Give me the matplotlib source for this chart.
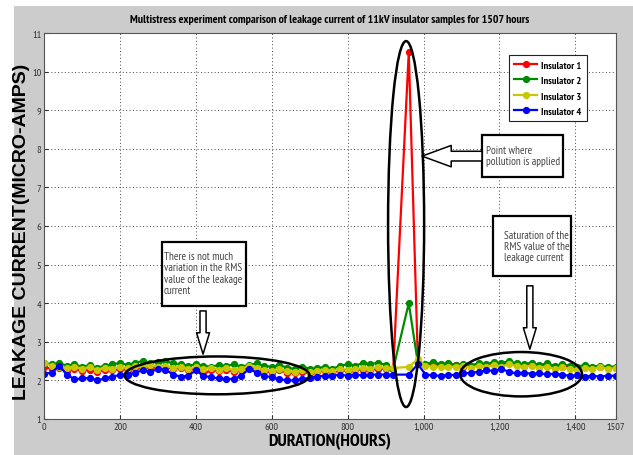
import matplotlib
matplotlib.use("Agg")
import matplotlib.pyplot as plt
from matplotlib.patches import Ellipse, Rectangle

# sample times (hours)
hours = [0, 20, 40, 60, 80, 100, 120, 140, 160, 180, 200, 220, 240, 260, 280,
         300, 320, 340, 360, 380, 400, 420, 440, 460, 480, 500, 520, 540, 560,
         580, 600, 620, 640, 660, 680, 700, 720, 740, 760, 780, 800, 820, 840,
         860, 880, 900, 920, 961, 985, 1005, 1025, 1045, 1065, 1085, 1105,
         1125, 1145, 1165, 1185, 1205, 1225, 1245, 1265, 1285, 1305, 1325,
         1345, 1365, 1385, 1405, 1425, 1445, 1465, 1485, 1507]

# RMS leakage current (micro-amps)
ins1 = [2.35, 2.30, 2.32, 2.25, 2.30, 2.24, 2.28, 2.22, 2.27, 2.26, 2.30, 2.27,
        2.32, 2.30, 2.35, 2.32, 2.34, 2.30, 2.32, 2.26, 2.30, 2.15, 2.28, 2.24,
        2.28, 2.22, 2.26, 2.33, 2.28, 2.24, 2.20, 2.26, 2.20, 2.18, 2.22, 2.18,
        2.22, 2.25, 2.20, 2.26, 2.25, 2.27, 2.28, 2.27, 2.30, 2.30, 2.30, 10.5,
        2.50, 2.40, 2.40, 2.40, 2.40, 2.40, 2.36, 2.38, 2.40, 2.38, 2.42, 2.40,
        2.44, 2.40, 2.38, 2.42, 2.36, 2.38, 2.33, 2.36, 2.33, 2.30, 2.34, 2.32,
        2.34, 2.32, 2.33]
ins2 = [2.45, 2.42, 2.45, 2.38, 2.42, 2.35, 2.40, 2.33, 2.38, 2.42, 2.45, 2.40,
        2.46, 2.50, 2.45, 2.48, 2.50, 2.44, 2.42, 2.38, 2.42, 2.38, 2.35, 2.40,
        2.37, 2.42, 2.36, 2.40, 2.44, 2.38, 2.35, 2.40, 2.33, 2.30, 2.36, 2.30,
        2.32, 2.35, 2.30, 2.38, 2.42, 2.38, 2.45, 2.42, 2.46, 2.40, 2.30, 4.00,
        2.45, 2.42, 2.48, 2.42, 2.45, 2.40, 2.42, 2.38, 2.45, 2.42, 2.48, 2.45,
        2.50, 2.44, 2.42, 2.46, 2.40, 2.44, 2.38, 2.42, 2.38, 2.36, 2.40, 2.36,
        2.38, 2.35, 2.36]
ins3 = [2.45, 2.38, 2.36, 2.32, 2.36, 2.30, 2.34, 2.28, 2.33, 2.30, 2.35, 2.32,
        2.37, 2.34, 2.40, 2.36, 2.38, 2.33, 2.36, 2.30, 2.35, 2.30, 2.33, 2.28,
        2.32, 2.27, 2.30, 2.38, 2.32, 2.28, 2.25, 2.30, 2.24, 2.22, 2.26, 2.22,
        2.25, 2.28, 2.24, 2.30, 2.28, 2.30, 2.32, 2.30, 2.35, 2.33, 2.32, 2.35,
        2.55, 2.38, 2.36, 2.35, 2.36, 2.35, 2.38, 2.33, 2.38, 2.35, 2.40, 2.36,
        2.42, 2.37, 2.36, 2.38, 2.33, 2.36, 2.30, 2.34, 2.30, 2.28, 2.32, 2.30,
        2.34, 2.30, 2.32]
ins4 = [2.17, 2.20, 2.38, 2.15, 2.03, 2.05, 2.06, 2.00, 2.05, 2.10, 2.14, 2.15,
        2.20, 2.26, 2.22, 2.30, 2.28, 2.15, 2.10, 2.12, 2.26, 2.12, 2.08, 2.05,
        2.03, 2.04, 2.12, 2.30, 2.20, 2.12, 2.08, 2.03, 2.00, 2.00, 2.03, 2.07,
        2.10, 2.12, 2.12, 2.15, 2.12, 2.15, 2.13, 2.15, 2.15, 2.15, 2.15, 2.15,
        2.42, 2.15, 2.13, 2.12, 2.14, 2.14, 2.18, 2.20, 2.22, 2.26, 2.25, 2.30,
        2.22, 2.18, 2.20, 2.17, 2.18, 2.16, 2.17, 2.15, 2.12, 2.13, 2.10, 2.12,
        2.10, 2.12, 2.12]

series = [ins1, ins2, ins3, ins4]
names = ["Insulator 1", "Insulator 2", "Insulator 3", "Insulator 4"]
colors = ["#ff0000", "#008a00", "#c8c800", "#0000ff"]

xticks = [0, 200, 400, 600, 800, 1000, 1200, 1400, 1507]
xticklabels = ["0", "200", "400", "600", "800", "1,000", "1,200", "1,400", "1507"]
yticks = list(range(1, 12))

narrow = ["PT Sans Narrow", "DejaVu Sans"]

fig = plt.figure(figsize=(6.33, 4.56), dpi=100, facecolor="white")
# grey window background
fig.patches.append(Rectangle((14 / 633, 0), 1, 449 / 456, transform=fig.transFigure,
                             facecolor="#cccccc", edgecolor="none", zorder=-10))

ax = fig.add_axes([44 / 633, 36 / 456, 572 / 633, 386 / 456])
ax.set_facecolor("white")

for vals, name, c in zip(series, names, colors):
    ax.plot(hours, vals, "-o", color=c, lw=1.6, ms=4.2, label=name)

ax.set_xlim(0, 1507)
ax.set_ylim(1, 11)
ax.set_xticks(xticks)
ax.set_xticklabels(xticklabels)
ax.set_yticks(yticks)
ax.grid(True, linestyle=(0, (1, 2.5)), color="#444444", lw=0.7)
ax.tick_params(direction="in", length=3, labelsize=7.5, colors="#333333", pad=2)
for lab in ax.get_xticklabels() + ax.get_yticklabels():
    lab.set_family(narrow)
for s in ax.spines.values():
    s.set_color("#555555")
    s.set_linewidth(0.8)

ax.set_title("Multistress experiment comparison of leakage current of 11kV insulator samples for 1507 hours",
             family=narrow, fontsize=8.5, fontweight="bold", pad=8)
ax.set_xlabel("DURATION(HOURS)", family=narrow, fontsize=13, fontweight="bold")
ax.xaxis.set_label_coords(0.5, -0.035)
fig.text(22 / 633, 1 - 232 / 456, "LEAKAGE CURRENT(MICRO-AMPS)", rotation=90,
         ha="center", va="center", fontsize=14, fontweight="bold",
         family=["Liberation Sans", "DejaVu Sans"])

leg = ax.legend(loc="upper left", bbox_to_anchor=(0.813, 0.943), numpoints=1,
                handlelength=2.2, fancybox=False, edgecolor="#222222",
                prop={"family": narrow, "size": 7.5, "weight": "bold"}, borderpad=0.5,
                labelspacing=0.6, handletextpad=0.4, borderaxespad=0, framealpha=1)
leg.get_frame().set_linewidth(0.8)

# highlight ellipses
for cx, cy, w, h in [(954, 6.05, 95, 9.48), (456, 2.13, 487, 0.98), (1257, 2.16, 321, 1.15)]:
    ax.add_patch(Ellipse((cx, cy), w, h, fill=False, edgecolor="black", lw=1.8, zorder=5))

# note boxes
boxes = [
    (1154, 7.27, 213, 1.09, 1165, 7.82, "Point where\npollution is applied"),
    (311, 3.93, 221, 1.66, 316, 4.78, "There is not much\nvariation in the RMS\nvalue of the leakage\ncurrent"),
    (1183, 4.70, 205, 1.56, 1212, 5.48, "Saturation of the\nRMS value of the\nleakage current"),
]
for x0, y0, w, h, tx, ty, txt in boxes:
    ax.add_patch(Rectangle((x0, y0), w, h, fill=True, facecolor="white",
                           edgecolor="black", lw=1.6, zorder=6))
    ax.text(tx, ty, txt, family=narrow, fontsize=8, color="#444444",
            ha="left", va="center", linespacing=1.15, zorder=7)

# hollow arrows
arrows = [
    ((1154, 7.81), (996, 7.81), "simple,head_length=1.5,head_width=1.1,tail_width=0.5", 14),
    ((419, 3.80), (419, 2.68), "simple,head_length=1.4,head_width=0.85,tail_width=0.4", 11),
    ((1280, 4.45), (1280, 2.81), "simple,head_length=1.4,head_width=0.85,tail_width=0.4", 11),
]
for tail, tip, style, ms in arrows:
    ax.annotate("", xy=tip, xytext=tail,
                arrowprops=dict(arrowstyle=style, mutation_scale=ms, fc="white",
                                ec="black", lw=1.1, shrinkA=0, shrinkB=0),
                zorder=7)

fig.savefig("out.png", dpi=100, facecolor=fig.get_facecolor())
